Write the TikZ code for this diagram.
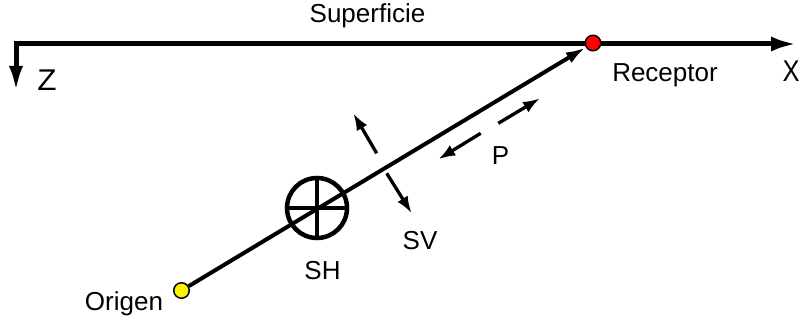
\documentclass[tikz,border=0pt]{standalone}
\usepackage{fontspec}
\setmainfont{Liberation Sans}
\usetikzlibrary{arrows.meta}
\begin{document}
\begin{tikzpicture}[x=1pt,y=-1pt,
  lbl/.style={inner sep=0pt,anchor=base,font=\fontsize{26}{30}\selectfont},
  big/.style={inner sep=0pt,anchor=base,font=\fontsize{30}{34}\selectfont},
  dot/.style={circle,draw=black,line width=1.5pt,minimum size=15.5pt,inner sep=0pt},
  axis/.style={line width=5pt,line join=miter,{Latex[length=26pt,width=15pt]}-{Latex[length=26pt,width=14pt]}},
  ray/.style={line width=4pt,-{Latex[length=20pt,width=12pt]}},
  small/.style={line width=3.3pt,-{Latex[length=17pt,width=12pt]}}]
\useasboundingbox (0,0) rectangle (804,323);
% axes
\coordinate (xend) at (797,44);
\coordinate (corner) at (16,44);
\coordinate (zend) at (16,92);
\draw[axis] (xend) -- (corner) -- (zend);
% labels
\node[lbl] (sup) at (367.5,23) {Superficie};
\node[big,xscale=1.05] (z) at (47,90.5) {Z};
\node[big,xscale=0.85] (x) at (791,82) {X};
\node[lbl] (rec) at (665,82) {Receptor};
\node[lbl] (ori) at (124,311) {Origen};
\node[lbl] (shl) at (322.5,280) {SH};
\node[lbl] (svl) at (420,250) {SV};
\node[lbl] (pl) at (500.5,165) {P};
% points
\node[dot,fill=red] (r) at (593,43) {};
\node[dot,fill=yellow] (o) at (181.5,290.5) {};
% ray
\draw[ray] (o) -- (r);
% SH symbol
\node[circle,draw,line width=4.5pt,minimum size=60pt,inner sep=0pt] (sh) at (317,208) {};
\draw[line width=3.8pt] (sh.north) -- (sh.south);
\draw[line width=3.8pt] (sh.west) -- (sh.east);
% SV arrows
\coordinate (sv1a) at (376.7,153.3);
\coordinate (sv1b) at (353.3,113.3);
\coordinate (sv2a) at (386.7,173.3);
\coordinate (sv2b) at (411.7,213.3);
\draw[small] (sv1a) -- (sv1b);
\draw[small] (sv2a) -- (sv2b);
% P arrows
\coordinate (p1a) at (498.3,123.3);
\coordinate (p1b) at (540,98.3);
\coordinate (p2a) at (480.7,133.3);
\coordinate (p2b) at (438.3,159.3);
\draw[small] (p1a) -- (p1b);
\draw[small] (p2a) -- (p2b);
\end{tikzpicture}
\end{document}
